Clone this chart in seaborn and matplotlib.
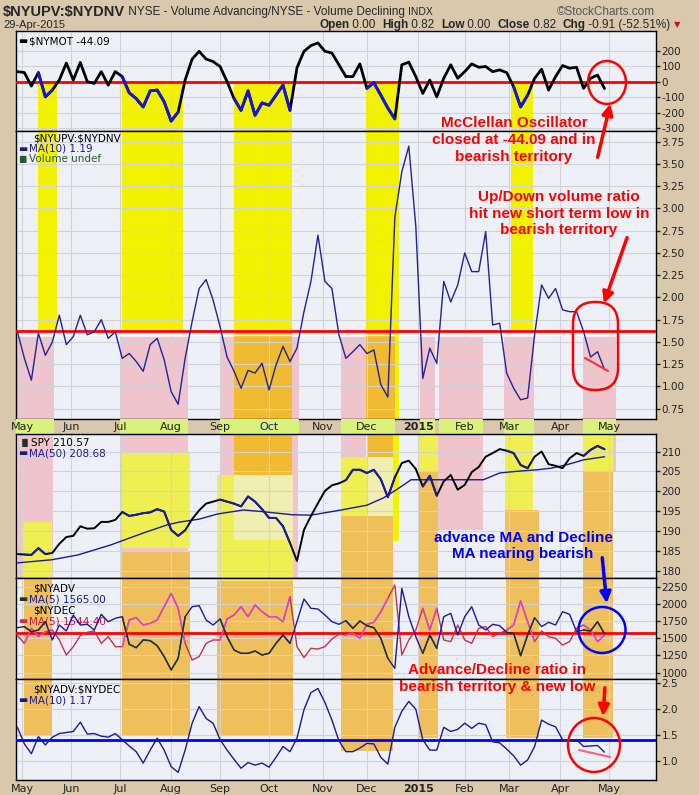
import numpy as np
import pandas as pd
import seaborn as sns
import matplotlib.pyplot as plt
from matplotlib.patches import Rectangle, Ellipse, FancyBboxPatch, FancyArrowPatch
from matplotlib.lines import Line2D
from matplotlib.transforms import IdentityTransform

# sessions counted from 1-May-2014 (=0), one reading every 3 sessions up to 29-Apr-2015
sessions = np.arange(-2, 251, 3)

# $NYMOT McClellan oscillator
nymot = [65, 59, -28, 59, -98, -54, 11, 120, 11, 124, 0, -11, 65, -22, 65, 33, -72, -109, -163, -59,
         -54, -130, -254, -196, 11, 146, 196, 146, 130, 98, 0, -109, -185, -59, -217, -137, -152, -87,
         -22, -185, 90, 196, 233, 250, 196, 185, 109,
         33, 33, 115, -43, -7, -87, -170, -240, 109, 126, 33, -76, 11, -98, 22, 109, 22, 65, 115, 93,
         98, 65, 76, 59, -33, -163, -87, 22, 80, -54, 33, 104, 87, 93, -43, 22, 43, -44]

# $NYUPV:$NYDNV MA(10)
updown = [1.615, 1.316, 1.07, 1.60, 1.35, 1.50, 1.80, 1.47, 1.56, 1.80, 1.58, 1.615, 1.75, 1.54, 1.615,
          1.316, 1.37, 1.28, 1.17, 1.47, 1.54, 1.30, 0.94, 0.80, 1.316, 1.73, 2.10, 2.2, 1.97, 1.67, 1.33,
          1.17, 0.98, 1.18, 1.15, 1.26, 0.96, 1.24, 1.45, 1.28, 1.43, 1.84, 2.18, 2.70, 2.18, 2.10, 1.58, 1.316,
          1.39, 1.47, 1.37, 1.41, 1.02, 0.88, 2.9, 3.41, 3.70, 2.8, 1.09, 1.43, 1.26, 2.18, 1.95, 2.14, 2.5,
          2.29, 2.29, 2.74, 1.69, 1.71, 1.15, 0.98, 0.85, 0.87, 1.58, 2.14, 1.99, 2.10, 1.86, 1.84, 1.84,
          1.62, 1.33, 1.39, 1.19]

# SPY close
spy = [184.2, 184.1, 184.0, 185.7, 184.2, 184.5, 186.8, 188.5, 188.8, 191.2, 190.6, 190.7, 192.3, 192.3,
       192.8, 194.8, 193.8, 194.1, 194.5, 194.7, 195.5, 194.9, 190.3, 188.8, 190.2, 193.0, 195.2, 196.9,
       197.4, 197.9, 197.4, 196.9, 196.2, 198.7, 197.4, 195.5, 193.3, 193.3, 191.2, 187.0, 182.5, 190.3,
       193.8, 197.0, 200.1, 201.5, 202.0,
       202.8, 205.4, 205.4, 204.6, 205.4, 203.0, 198.5, 203.5, 207.1, 207.7, 205.6, 201.2, 203.9, 198.9,
       202.5, 204.1, 200.4, 201.6, 204.8, 206.1, 208.7, 209.6, 210.6, 210.2, 209.6, 206.6, 205.8, 208.7,
       210.0, 206.8, 206.4, 205.8, 208.3, 209.6, 208.9, 210.4, 211.4, 210.57]

# SPY MA(50)
ma_sessions = [-2, 13, 24, 38, 52, 62, 67, 76, 84, 95, 103, 116, 124, 137, 148, 155, 161, 167, 184, 198,
               205, 212, 221, 227, 234, 241, 250]
spy_ma50 = [182.0, 182.8, 184.0, 186.5, 189.5, 191.5, 192.2, 193.0, 194.3, 195.3, 194.9, 194.1, 194.0,
            195.3, 196.5, 198.3, 200.5, 202.9, 202.9, 202.9, 204.6, 205.0, 205.4, 205.8, 206.7, 207.9, 208.68]

# $NYADV MA(5) and $NYDEC MA(5)
adv = [1654, 1669, 1596, 1620, 1741, 1475, 1693, 1606, 1838, 1693, 1703, 1620, 1848, 1741, 1790, 1814,
       1412, 1363, 1475, 1465, 1392, 1233, 1039, 1208, 1814, 1959, 1974, 1766, 1693, 1780, 1523, 1329,
       1281, 1281, 1315, 1257, 1281, 1426, 1547, 1426, 1741, 2071, 1935, 1925, 1838, 1741, 1703,
       1756, 1644, 1751, 1683, 1654, 1499, 1208, 1063, 2226, 1814, 1523, 1281, 1547, 1354, 1814, 1862,
       1547, 1814, 1959, 1693, 1620, 1703, 1683, 1586, 1572, 1247, 1547, 1799, 1669, 1732, 1693, 1887,
       1848, 1596, 1620, 1606, 1741, 1565]
dec = [1538, 1426, 1644, 1523, 1596, 1620, 1475, 1257, 1378, 1538, 1586, 1606, 1426, 1523, 1378, 1378,
       1766, 1799, 1693, 1717, 1766, 1959, 2153, 1935, 1426, 1184, 1233, 1426, 1475, 1475, 1780, 1838,
       1959, 1814, 1984, 1887, 1814, 1814, 1741, 2105, 1378, 1218, 1354, 1344, 1378, 1489, 1557,
       1547, 1572, 1499, 1703, 1732, 1887, 2080, 2274, 1257, 1475, 1620, 1935, 1620, 1935, 1475, 1451,
       1693, 1475, 1426, 1644, 1669, 1523, 1572, 1620, 1693, 2042, 1741, 1451, 1606, 1523, 1499, 1402,
       1451, 1644, 1693, 1620, 1451, 1544.4]

# $NYADV:$NYDEC MA(10)
adratio = [1.65, 1.33, 1.14, 1.47, 1.31, 1.46, 1.53, 1.55, 1.57, 1.75, 1.52, 1.53, 1.48, 1.46, 1.53, 1.41,
           1.29, 1.18, 0.96, 1.21, 1.44, 1.21, 0.89, 0.78, 1.21, 1.73, 2.05, 1.82, 1.73, 1.41, 1.21, 1.03,
           0.86, 0.97, 0.92, 0.96, 0.88, 1.07, 1.28, 1.18, 1.44, 1.99, 2.32, 2.40, 2.13, 1.79, 1.39, 1.18,
           1.18, 1.25, 1.34, 1.33, 1.07, 0.94, 1.65, 1.96, 2.15, 2.0, 1.41, 1.21, 1.21, 1.65, 1.57, 1.61,
           1.73, 1.63, 1.73, 1.70, 1.37, 1.35, 1.23, 1.10, 0.92, 1.02, 1.28, 1.79, 1.71, 1.66, 1.41, 1.39,
           1.41, 1.28, 1.29, 1.30, 1.17]

# highlighted periods (session ranges)
osc_zones = [(6.9, 15.0), (42.9, 69.1), (91.0, 115.9), (147.6, 161.8), (209.9, 219.3)]
pink_zones = [(-2.6, 13.7), (42.1, 71.2), (85.0, 118.9), (136.9, 160.1), (170.8, 177.3),
              (179.0, 197.9), (206.9, 219.7), (240.8, 255.0)]
breadth_zones = [(0.9, 12.9), (42.9, 72.1), (83.7, 116.3), (136.9, 159.2), (170.0, 178.5),
                 (207.7, 221.9), (240.8, 253.6)]
breadth_tops = [1.50, 1.51, 1.48, 1.20, 1.44, 1.44, 1.44]
spy_zones = [(0.4, 12.9), (42.9, 72.1), (83.7, 116.3), (136.9, 161.8), (170.0, 178.5),
             (207.3, 219.3), (240.8, 253.6)]

holidays = ['2014-05-26', '2014-07-04', '2014-09-01', '2014-11-27', '2014-12-25',
            '2015-01-01', '2015-01-19', '2015-02-16', '2015-04-03']
cal = pd.bdate_range('2014-05-01', '2015-06-30', freq='C', holidays=holidays)

df = pd.DataFrame({'session': sessions, 'nymot': nymot, 'updown': updown, 'spy': spy,
                   'adv': adv, 'dec': dec, 'adratio': adratio})
ma_df = pd.DataFrame({'session': ma_sessions, 'ma50': spy_ma50})

# month ticks
pos = pd.Series(np.arange(len(cal)), index=cal)
firsts = pos.groupby([cal.year, cal.month]).first()
mticks, mlabels = [], []
for (yr, mo), p in firsts.items():
    if p > 270:
        continue
    mticks.append(p)
    mlabels.append('2015' if (yr == 2015 and mo == 1) else pd.Timestamp(yr, mo, 1).strftime('%b'))

#Plot setup
sns.set_style('white')
plt.rcParams['font.family'] = ['DejaVu Sans']
plt.rcParams['axes.unicode_minus'] = False
plt.rcParams['text.parse_math'] = False

W, H = 699, 795
TAN = '#d9c8ac'
BG = '#eef0f8'
YEL = '#f2f200'
YEL3 = '#f0ef52'
PINK = '#f0c4cc'
ORA = '#efbf5c'
ORA2 = '#f0bb30'
PALE = '#f0eeb0'
LIME = '#d8f27c'
XL = (-2.6, 272.1)
px = IdentityTransform()
HF = 'Liberation Sans'

fig = plt.figure(figsize=(W / 100, H / 100), dpi=100)
fig.patch.set_facecolor(TAN)


def rect(top, bottom):
    return [16 / W, 1 - bottom / H, 640 / W, (bottom - top) / H]


def setup(ax, ylim, ticks, fmt):
    ax.set_facecolor(BG)
    ax.set_xlim(XL)
    ax.set_ylim(ylim)
    ax.set_xticks(mticks)
    ax.set_xticklabels([])
    ax.set_yticks(ticks)
    ax.set_yticklabels([fmt % t for t in ticks])
    ax.yaxis.tick_right()
    ax.tick_params(axis='y', length=3, width=1, pad=1, labelsize=7.5, colors='#222222')
    ax.tick_params(axis='x', length=0)
    ax.grid(True, color='#d2d2da', lw=0.8)
    ax.set_axisbelow('line')
    for s in ax.spines.values():
        s.set_color('black')
        s.set_linewidth(1)


def box(ax, a, b, lo, hi, color, z=0.5):
    ax.add_patch(Rectangle((a, lo), b - a, hi - lo, color=color, lw=0, zorder=z))


def zone_line(ax, col, zones, color, lw):
    for a, b in zones:
        sub = df[(df.session >= a) & (df.session <= b)]
        if len(sub) > 1:
            sns.lineplot(data=sub, x='session', y=col, ax=ax, color=color, lw=lw, estimator=None, zorder=4)


def legend(ax, y, label, color='black', dash=None, x=0.02):
    if dash:
        ax.text(0.004, y, '\u25ac', transform=ax.transAxes, fontsize=7, va='center', color=dash)
    ax.text(x, y, label, transform=ax.transAxes, fontsize=7.5, va='center', color=color)


##Panel 1: McClellan oscillator
ax1 = fig.add_axes(rect(31, 131))
setup(ax1, (-318, 327), [-300, -200, -100, 0, 100, 200], '%d')
for a, b in osc_zones:
    box(ax1, a, b, -1000, -12, YEL)
ax1.axhline(0, color='red', lw=2, zorder=3)
sns.lineplot(data=df, x='session', y='nymot', ax=ax1, color='black', lw=2, estimator=None, zorder=3)
zone_line(ax1, 'nymot', osc_zones, '#1414e6', 2)
legend(ax1, 0.9, '$NYMOT -44.09', dash='black')

##Panel 2: up/down volume ratio
ax2 = fig.add_axes(rect(131, 419))
setup(ax2, (0.634, 3.87), np.arange(0.75, 3.76, 0.25), '%.2f')
for a, b in osc_zones:
    box(ax2, a, b, 1.62, 10, YEL)
for a, b in pink_zones:
    box(ax2, a, b, -10, 1.56, PINK)
box(ax2, 91.0, 115.9, -10, 1.62, ORA2)
box(ax2, 147.6, 160.1, -10, 1.62, ORA2)
box(ax2, 160.1, 161.8, -10, 10, YEL)
ax2.axhline(1.575, color='white', lw=1, zorder=2)
ax2.axhline(1.626, color='red', lw=2, zorder=3)
sns.lineplot(data=df, x='session', y='updown', ax=ax2, color='#22229a', lw=1, estimator=None, zorder=4)
legend(ax2, 0.973, '$NYUPV:$NYDNV', x=0.026)
legend(ax2, 0.938, 'MA(10) 1.19', color='#1a1a9a', dash='#1a1a80')
ax2.text(0.005, 0.903, '\u2587', transform=ax2.transAxes, fontsize=6, va='center', color='#2a5a2a')
legend(ax2, 0.903, 'Volume undef', color='#2a5a2a')

##Month strip
axm = fig.add_axes([16 / W, 1 - 434 / H, 640 / W, 15 / H])
axm.set_xlim(XL)
axm.set_ylim(0, 1)
axm.axis('off')
for a, b in pink_zones:
    box(axm, a, b, 0, 1, LIME)
for t, l in zip(mticks, mlabels):
    axm.text(t, 0.45, l, ha='center', va='center', fontsize=8, color='#1a1a9a' if l == 'Oct' else '#222222',
             fontweight='bold' if l == '2015' else 'normal')

##Panel 3: SPY
ax3 = fig.add_axes(rect(434, 578))
setup(ax3, (178.2, 214.4), [180, 185, 190, 195, 200, 205, 210], '%d')
TOP, BOT = 500, 0
box(ax3, -1.7, 13.3, BOT, TOP, PINK)
box(ax3, 0.4, 12.9, BOT, 192.4, YEL3)
box(ax3, 42.1, 71.2, BOT, TOP, PINK)
box(ax3, 42.9, 72.1, 185.7, 209.6, YEL3)
box(ax3, 42.9, 72.1, BOT, 184.9, ORA)
box(ax3, 85.0, 118.5, BOT, TOP, PINK)
box(ax3, 91.0, 115.9, 204.1, TOP, ORA2)
box(ax3, 83.7, 116.3, BOT, 204.1, YEL3)
box(ax3, 91.0, 116.3, 187.8, 204.1, PALE)
box(ax3, 136.9, 147.6, 208.7, TOP, PINK)
box(ax3, 136.9, 148.0, 193.7, 208.7, YEL3)
box(ax3, 136.9, 159.2, BOT, 193.7, ORA)
box(ax3, 148.0, 159.2, 208.7, TOP, ORA2)
box(ax3, 148.0, 159.2, 193.7, 208.7, PALE)
box(ax3, 159.2, 161.8, 187.4, TOP, YEL)
box(ax3, 170.0, 178.5, 205.0, TOP, YEL3)
box(ax3, 170.0, 178.5, BOT, 205.0, ORA)
box(ax3, 178.5, 197.9, 190.3, TOP, PINK)
box(ax3, 207.3, 219.3, 195.3, TOP, YEL3)
box(ax3, 207.3, 221.9, BOT, 195.3, ORA)
box(ax3, 240.8, 255.0, 205.0, TOP, PINK)
box(ax3, 240.8, 253.6, 205.0, TOP, YEL3)
box(ax3, 240.8, 253.6, BOT, 205.0, ORA)
sns.lineplot(data=ma_df, x='session', y='ma50', ax=ax3, color='#1a1a9a', lw=1, estimator=None, zorder=3)
sns.lineplot(data=df, x='session', y='spy', ax=ax3, color='black', lw=1.4, estimator=None, zorder=4)
zone_line(ax3, 'spy', spy_zones, '#1c1caa', 1.4)
ax3.text(0.005, 0.94, '\u2590\u258c', transform=ax3.transAxes, fontsize=6, va='center', color='#203030')
legend(ax3, 0.94, 'SPY 210.57', x=0.024)
legend(ax3, 0.865, 'MA(50) 208.68', color='#1a1a9a', dash='#1a1a80')

##Panel 4: advances / declines
ax4 = fig.add_axes(rect(578, 679))
setup(ax4, (908, 2376), [1000, 1250, 1500, 1750, 2000, 2250], '%d')
for a, b in breadth_zones:
    box(ax4, a, b, 0, 5000, ORA)
box(ax4, 83.7, 116.3, 2330, 5000, YEL3)
ax4.axhline(1581, color='red', lw=2, zorder=3)
sns.lineplot(data=df, x='session', y='dec', ax=ax4, color='#c8304a', lw=1, estimator=None, zorder=4)
sns.lineplot(data=df, x='session', y='adv', ax=ax4, color='#1a1aa0', lw=1, estimator=None, zorder=4)
zone_line(ax4, 'dec', breadth_zones, '#e040e0', 1)
zone_line(ax4, 'adv', breadth_zones, '#1e3a1e', 1)
legend(ax4, 0.9, '$NYADV', x=0.026)
legend(ax4, 0.79, 'MA(5) 1565.00', color='#1a1a9a', dash='#1e3a1e')
legend(ax4, 0.68, '$NYDEC', x=0.026)
legend(ax4, 0.57, 'MA(5) 1544.40', color='#c81040', dash='#c8304a')

##Panel 5: advance / decline ratio
ax5 = fig.add_axes(rect(679, 780))
setup(ax5, (0.633, 2.583), [1.0, 1.5, 2.0, 2.5], '%.1f')
for (a, b), top in zip(breadth_zones, breadth_tops):
    box(ax5, a, b, top, 10, ORA)
ax5.axhline(1.41, color='#0000ff', lw=2, zorder=3)
sns.lineplot(data=df, x='session', y='adratio', ax=ax5, color='#1a1a9a', lw=1, estimator=None, zorder=4)
ax5.set_xticklabels(mlabels)
ax5.tick_params(axis='x', labelsize=8, pad=3, colors='#222222')
for lab in ax5.get_xticklabels():
    if lab.get_text() == '2015':
        lab.set_fontweight('bold')
legend(ax5, 0.9, '$NYADV:$NYDEC', x=0.026)
legend(ax5, 0.79, 'MA(10) 1.17', color='#1a1a9a', dash='#1a1a80')

for ax in (ax1, ax2, ax3, ax4, ax5):
    ax.set(xlabel='', ylabel='')

##Header
r = fig.canvas.get_renderer()


def run(x, y, pieces):
    for s, w, size in pieces:
        t = fig.text(x, y, s, transform=px, fontsize=size, fontweight=w, family=HF, va='center')
        x += t.get_window_extent(r).width
    return x


run(3, H - 12, [('$NYUPV:$NYDNV', 'bold', 10.5), (' NYSE - Volume Advancing/NYSE - Volume Declining ', 'normal', 8.5),
                ('INDX', 'normal', 7.5)])
fig.text(655, H - 12, '\u00a9StockCharts.com', transform=px, fontsize=8.5, family=HF,
         va='center', ha='right', color='#555555')
fig.text(3, H - 25, '29-Apr-2015', transform=px, fontsize=8, family=HF, va='center')
xx = run(319, H - 25, [('Open', 'bold', 8.5), (' 0.00  ', 'normal', 8.5), ('High', 'bold', 8.5),
                       (' 0.82  ', 'normal', 8.5), ('Low', 'bold', 8.5), (' 0.00  ', 'normal', 8.5),
                       ('Close', 'bold', 8.5), (' 0.82  ', 'normal', 8.5), ('Chg', 'bold', 8.5),
                       (' -0.91 (-52.51%)', 'normal', 8.5)])
fig.text(xx + 4, H - 25, '\u25bc', transform=px, fontsize=6, color='#d01020', va='center')

##Annotations
red = '#ff0000'
blue = '#0000ff'
notes = [(514, 140, 'McClellan Oscillator\nclosed at -44.09 and in\nbearish territory', red, 1.3),
         (559, 213.5, 'Up/Down volume ratio\nhit new short term low in\nbearish territory', red, 1.22),
         (523, 546, 'advance MA and Decline\nMA nearing bearish', blue, 1.22),
         (497, 678.5, 'Advance/Decline ratio in\nbearish territory & new low', red, 1.22)]
for x, y, s, c, ls in notes:
    fig.text(x, H - y, s, transform=px, color=c, fontsize=11, fontweight='bold', family=HF,
             ha='center', va='center', linespacing=ls)

for p0, p1, c in [((597, 160), (611, 101), red), ((628, 235), (603, 306), red),
                  ((602, 555), (607, 606), blue), ((605, 685), (603, 719), red)]:
    fig.add_artist(FancyArrowPatch((p0[0], H - p0[1]), (p1[0], H - p1[1]), transform=px,
                                   arrowstyle='-|>', mutation_scale=16, lw=2.5, color=c))
fig.add_artist(Ellipse((607, H - 82.5), 38, 43, transform=px, fill=False, ec=red, lw=1.8))
fig.add_artist(FancyBboxPatch((573, H - 390), 45, 88, boxstyle='round,pad=0,rounding_size=22',
                              transform=px, fill=False, ec=red, lw=1.8))
fig.add_artist(Ellipse((602, H - 630), 47, 46, transform=px, fill=False, ec=blue, lw=1.8))
fig.add_artist(Ellipse((594, H - 745), 52, 54, transform=px, fill=False, ec=red, lw=1.8))
fig.add_artist(Line2D([585, 608], [H - 358, H - 371], transform=px, color='#ff3030', lw=1.5))
fig.add_artist(Line2D([579, 610], [H - 750, H - 757], transform=px, color='#ff6070', lw=1.5))

#Save plot
fig.savefig('out.png', dpi=100, facecolor=TAN)
